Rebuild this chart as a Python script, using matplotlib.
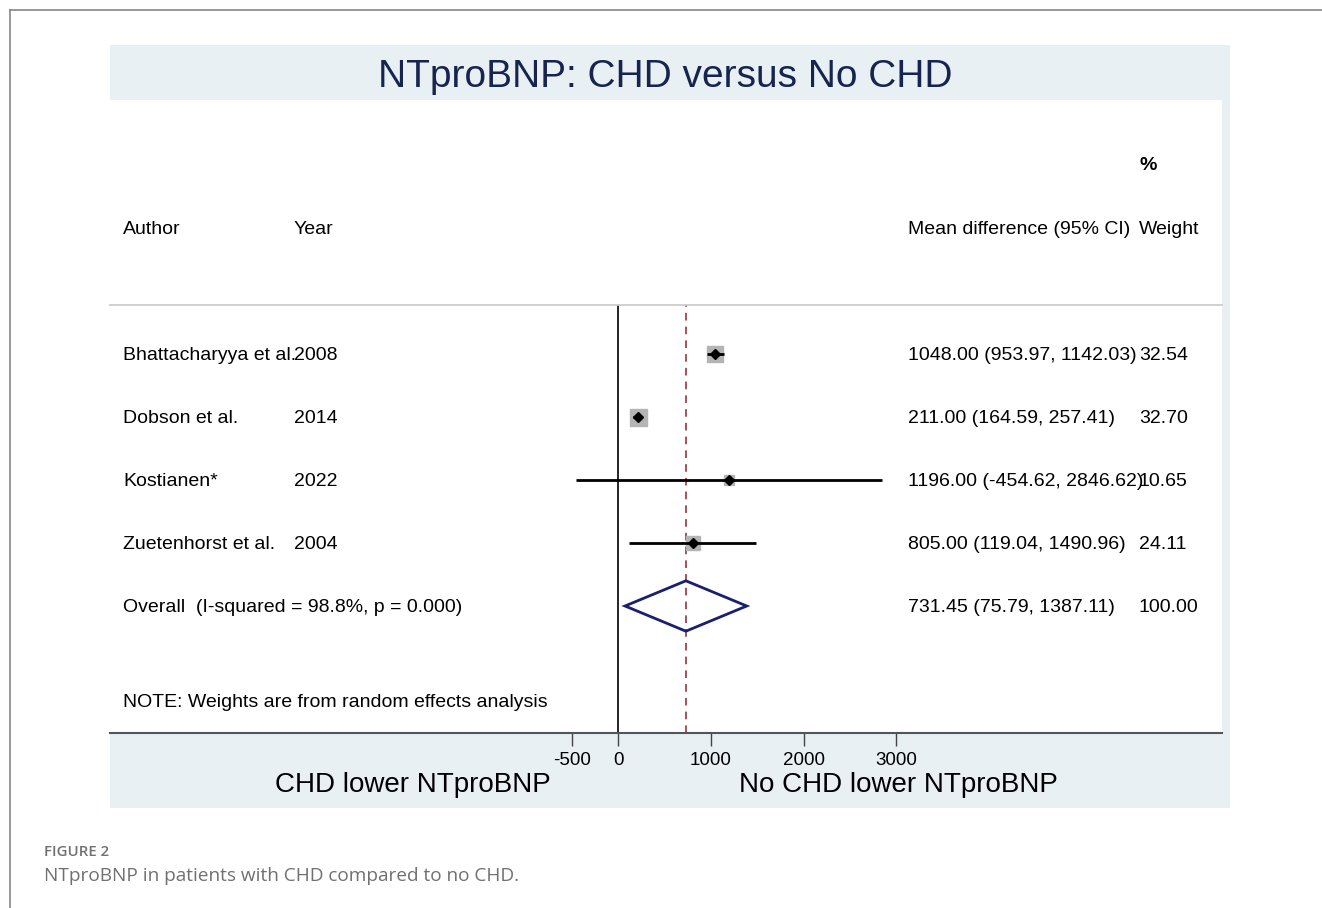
import matplotlib.pyplot as plt
from matplotlib.patches import Rectangle, Polygon
from matplotlib.transforms import blended_transform_factory
import numpy as np

plt.rcParams['font.family'] = ['Liberation Sans', 'DejaVu Sans']

# data
authors = ['Bhattacharyya et al.', 'Dobson et al.', 'Kostianen*', 'Zuetenhorst et al.']
years = ['2008', '2014', '2022', '2004']
md = [1048.00, 211.00, 1196.00, 805.00]
lo = [953.97, 164.59, -454.62, 119.04]
hi = [1142.03, 257.41, 2846.62, 1490.96]
weights = [32.54, 32.70, 10.65, 24.11]
overall = (731.45, 75.79, 1387.11)
i2_text = 'Overall  (I-squared = 98.8%, p = 0.000)'
ticks = [-500, 0, 1000, 2000, 3000]

W, H = 1322, 908
fig = plt.figure(figsize=(W / 100, H / 100), dpi=100)
fig.patch.set_facecolor('white')

def fx(px):
    return px / W

def fy(py):
    return 1 - py / H

# outer frame
fig.add_artist(plt.Line2D([fx(10), 1], [fy(10), fy(10)], color='#888888', lw=1.2))
fig.add_artist(plt.Line2D([fx(10), fx(10)], [fy(10), 0], color='#888888', lw=1.2))

# panel background
fig.add_artist(Rectangle((fx(110), fy(808)), fx(1230) - fx(110), fy(45) - fy(808),
                         facecolor='#e8f0f3', edgecolor='none', zorder=0))
fig.add_artist(Rectangle((fx(110), fy(733)), fx(1222) - fx(110), fy(100) - fy(733),
                         facecolor='white', edgecolor='none', zorder=0))

fig.text(fx(665), fy(77), 'NTproBNP: CHD versus No CHD', fontsize=28,
         color='#16244f', ha='center', va='center')

# header
fs = 14
fig.text(fx(1140), fy(165), '%', fontsize=fs, ha='left', va='center', fontweight='bold')
fig.text(fx(123), fy(229), 'Author', fontsize=fs, ha='left', va='center')
fig.text(fx(294), fy(229), 'Year', fontsize=fs, ha='left', va='center')
fig.text(fx(908), fy(229), 'Mean difference (95% CI)', fontsize=fs, ha='left', va='center')
fig.text(fx(1139), fy(229), 'Weight', fontsize=fs, ha='left', va='center')

# forest axes
ax = fig.add_axes([fx(110), fy(733), fx(1222) - fx(110), fy(305) - fy(733)])
ax.patch.set_alpha(0)
x0 = 618
scale = 0.0928  # px per unit
ax.set_xlim((110 - x0) / scale, (1222 - x0) / scale)
ax.set_ylim((733 - 354) / 63, (305 - 354) / 63)

for s in ['left', 'right']:
    ax.spines[s].set_visible(False)
ax.spines['top'].set_color('#c8c8c8')
ax.spines['top'].set_linewidth(1.2)
ax.spines['bottom'].set_color('#555555')
ax.spines['bottom'].set_linewidth(1.5)
ax.set_yticks([])
ax.set_xticks(ticks)
ax.set_xticklabels([str(t) for t in ticks])
ax.tick_params(axis='x', direction='out', length=9, width=1, color='#444444',
               labelsize=13.5, pad=5)

ax.axvline(0, color='black', lw=1.2, zorder=2)
ax.axvline(overall[0], color='#8b2232', lw=1.1, ls=(0, (5, 4)), zorder=2)

rows = np.arange(len(authors))
trans = blended_transform_factory(ax.transAxes, ax.transData)
dy = 0.03  # nudge text down to line up with the marks
for i, r in enumerate(rows):
    ax.plot([lo[i], hi[i]], [r, r], color='black', lw=2, zorder=4, solid_capstyle='butt')
    side = 17 * np.sqrt(weights[i] / max(weights))
    ax.plot(md[i], r, marker='s', ms=side * 0.72, color='#b4b4b4', mec='#b4b4b4', zorder=3)
    ax.plot(md[i], r, marker='D', ms=5.5, color='black', zorder=5)
    ax.text((123 - 110) / 1112, r + dy, authors[i], transform=trans, fontsize=fs, va='center')
    ax.text((294 - 110) / 1112, r + dy, years[i], transform=trans, fontsize=fs, va='center')
    ax.text((908 - 110) / 1112, r + dy, f'{md[i]:.2f} ({lo[i]:.2f}, {hi[i]:.2f})',
            transform=trans, fontsize=fs, va='center')
    ax.text((1139 - 110) / 1112, r + dy, f'{weights[i]:.2f}', transform=trans, fontsize=fs,
            va='center')

ro = len(authors)
est, olo, ohi = overall
ax.add_patch(Polygon([[olo, ro], [est, ro - 0.4], [ohi, ro], [est, ro + 0.4]],
                     closed=True, fill=False, edgecolor='#1a1f6e', lw=2, zorder=4))
ax.text((123 - 110) / 1112, ro + dy, i2_text, transform=trans, fontsize=fs, va='center')
ax.text((908 - 110) / 1112, ro + dy, f'{est:.2f} ({olo:.2f}, {ohi:.2f})',
        transform=trans, fontsize=fs, va='center')
ax.text((1139 - 110) / 1112, ro + dy, '100.00', transform=trans, fontsize=fs, va='center')
ax.text((123 - 110) / 1112, ro + 1.5 + dy, 'NOTE: Weights are from random effects analysis',
        transform=trans, fontsize=fs, va='center')

fig.text(fx(413), fy(785), 'CHD lower NTproBNP', fontsize=20, ha='center', va='center')
fig.text(fx(898), fy(785), 'No CHD lower NTproBNP', fontsize=20, ha='center', va='center')

# caption
fig.text(fx(44), fy(852), 'FIGURE 2', fontsize=10.8, color='#707070', ha='left', va='center',
         family=['Open Sans', 'DejaVu Sans'], fontweight='semibold')
fig.text(fx(44), fy(876), 'NTproBNP in patients with CHD compared to no CHD.', fontsize=13.7,
         color='#707070', ha='left', va='center', family=['Open Sans', 'DejaVu Sans'])

fig.savefig('out.png', dpi=100)
